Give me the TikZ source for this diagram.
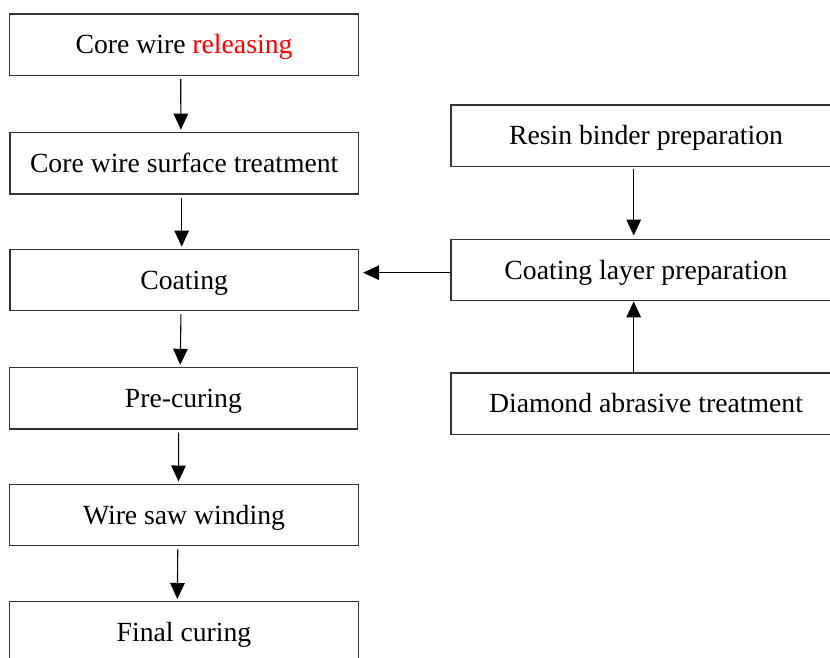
\documentclass[tikz,border=0pt]{standalone}
\usepackage{fontspec}
\setmainfont{Liberation Serif}
\usetikzlibrary{arrows.meta}
\definecolor{relred}{RGB}{255,0,0}
\tikzset{
  box/.style={draw=black!80, line width=1.3pt, rectangle, inner sep=0pt,
    font=\fontsize{27.7}{33}\selectfont, text=black, text height=18.3pt, text depth=0pt},
  lbox/.style={box, minimum width=348.5pt, minimum height=61.5pt},
  rbox/.style={box, minimum width=390pt, minimum height=61.5pt},
  arr/.style={line width=1.1pt, draw=black, -{Triangle[length=16pt,width=14.5pt]}}
}
\begin{document}
\begin{tikzpicture}[x=1pt,y=-1pt]
\useasboundingbox (0,0) rectangle (830,657);
\clip (0,0) rectangle (830,657);
\node[lbox] (a) at (184,44.8) {Core wire \textcolor{relred}{releasing}};
\node[lbox] (b) at (184.2,163.1) {Core wire surface treatment};
\node[lbox] (c) at (184.2,280) {Coating};
\node[lbox, minimum width=347.8pt] (d) at (183.4,398.2) {Pre-curing};
\node[lbox] (e) at (184,514.9) {Wire saw winding};
\node[lbox] (f) at (184,632.4) {Final curing};
\node[rbox] (r) at (646,135.8) {Resin binder preparation};
\node[rbox] (cl) at (646,270) {Coating layer preparation};
\node[rbox] (dm) at (646,403.8) {Diamond abrasive treatment};
\draw[arr, shorten <=3pt, shorten >=2pt] ([xshift=-3.3pt]a.south) -- ([xshift=-3.3pt]b.north);
\draw[arr, shorten <=3pt, shorten >=2pt] ([xshift=-2.5pt]b.south) -- ([xshift=-2.5pt]c.north);
\draw[arr, shorten <=3pt, shorten >=2pt] ([xshift=-3.2pt]c.south) -- ([xshift=-3.2pt]d.north);
\draw[arr, shorten <=3pt, shorten >=2pt] ([xshift=-4.7pt]d.south) -- ([xshift=-5.5pt]e.north);
\draw[arr, shorten <=3pt, shorten >=2pt] ([xshift=-6.2pt]e.south) -- ([xshift=-6.7pt]f.north);
\draw[arr, shorten <=2pt, shorten >=3pt] ([xshift=-12.3pt]r.south) -- ([xshift=-12.3pt]cl.north);
\draw[arr] ([xshift=-12.3pt]dm.north) -- ([xshift=-12.3pt]cl.south);
\coordinate (h) at ([yshift=-2.7pt]cl.west);
\draw[arr, shorten >=4pt] (h) -- (h -| c.east);
\end{tikzpicture}
\end{document}
